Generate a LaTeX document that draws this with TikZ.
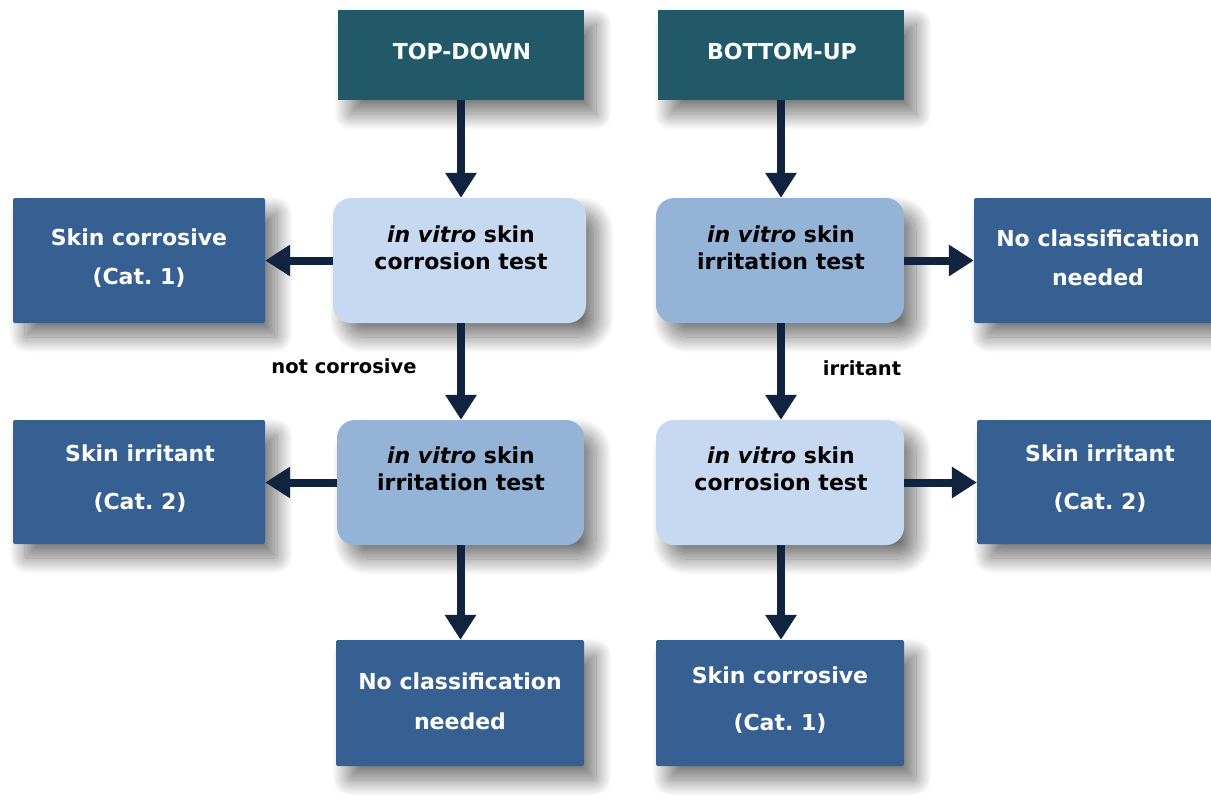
\documentclass[tikz,border=0pt]{standalone}
\usepackage{fontspec}
\setmainfont{DejaVu Sans}
\usetikzlibrary{shadows.blur,arrows.meta}
\definecolor{teal}{HTML}{215968}
\definecolor{dkblue}{HTML}{376092}
\definecolor{ltblue}{HTML}{C6D9F1}
\definecolor{mdblue}{HTML}{95B3D7}
\definecolor{navy}{HTML}{10243F}
\tikzset{
  shad/.style={blur shadow={shadow xshift=12pt, shadow yshift=-14pt, shadow blur radius=16pt, shadow blur steps=40, shadow opacity=55}},
  headbox/.style={shad, fill=teal, draw=none, minimum width=246pt, minimum height=90pt, inner sep=0pt},
  resbox/.style={shad, fill=dkblue, draw=none, rounded corners=2pt, inner sep=0pt},
  testbox/.style={shad, draw=none, rounded corners=18pt, minimum width=248pt, minimum height=125pt, inner sep=0pt},
  wtxt/.style={text=white, font=\bfseries\fontsize{22}{39}\selectfont, align=center, inner sep=0pt},
  btxt/.style={text=black, font=\bfseries\fontsize{22}{27}\selectfont, align=center, inner sep=0pt},
  lbl/.style={text=black, font=\bfseries\fontsize{19.5}{22}\selectfont, inner sep=0pt},
  arr/.style={draw=navy, line width=8pt, -{Triangle[width=30pt,length=25pt]}}
}
\begin{document}
\begin{tikzpicture}[x=1pt,y=-1pt]
\useasboundingbox (0,0) rectangle (1211,808);
% header boxes
\node[headbox] (td) at (461,55) {};
\node[headbox] (bu) at (781,55) {};
% test boxes
\node[testbox, fill=ltblue, minimum width=253pt] (lc) at (459.5,260.5) {};
\node[testbox, fill=mdblue] (ri) at (780,260.5) {};
\node[testbox, fill=mdblue, minimum width=247pt] (li) at (460.5,482.5) {};
\node[testbox, fill=ltblue] (rc) at (780,482.5) {};
% result boxes
\node[resbox, minimum width=252pt, minimum height=125pt] (sc1) at (139,260.5) {};
\node[resbox, minimum width=240pt, minimum height=125pt] (nc1) at (1094,260.5) {};
\node[resbox, minimum width=252pt, minimum height=124pt] (si1) at (139,482) {};
\node[resbox, minimum width=236pt, minimum height=124pt] (si2) at (1095,482) {};
\node[resbox, minimum width=248pt, minimum height=126pt] (nc2) at (460,703) {};
\node[resbox, minimum width=248pt, minimum height=126pt] (sc2) at (780,703) {};
% texts
\node[wtxt] (tdt) at (462,51) {TOP-DOWN};
\node[wtxt] (but) at (782,51) {BOTTOM-UP};
\node[btxt] (lct) at (461,248) {\textit{in vitro} skin\\corrosion test};
\node[btxt] (rit) at (781,248) {\textit{in vitro} skin\\irritation test};
\node[btxt] (lit) at (461,469) {\textit{in vitro} skin\\irritation test};
\node[btxt] (rct) at (781,469) {\textit{in vitro} skin\\corrosion test};
\node[wtxt] (sc1t) at (139,258) {Skin corrosive\\(Cat.~1)};
\node[wtxt] (nc1t) at (1098,258) {No classification\\needed};
\node[wtxt, font=\bfseries\fontsize{22}{48}\selectfont] (si1t) at (140,479) {Skin irritant\\(Cat.~2)};
\node[wtxt, font=\bfseries\fontsize{22}{48}\selectfont] (si2t) at (1100,479) {Skin irritant\\(Cat.~2)};
\node[wtxt, font=\bfseries\fontsize{22}{40}\selectfont] (nc2t) at (460,701) {No classification\\needed};
\node[wtxt, font=\bfseries\fontsize{22}{47}\selectfont] (sc2t) at (780,700) {Skin corrosive\\(Cat.~1)};
% labels
\node[lbl] (l1) at (344,366) {not corrosive};
\node[lbl] (l2) at (862,368) {irritant};
% arrows
\draw[arr] (td.south) -- (td.south |- lc.north);
\draw[arr] (bu.south) -- (bu.south |- ri.north);
\draw[arr] ([xshift=1.5pt]lc.south) -- ([xshift=1.5pt]lc.south |- li.north);
\draw[arr] ([xshift=1pt]ri.south) -- ([xshift=1pt]ri.south |- rc.north);
\draw[arr] (li.south) -- (li.south |- nc2.north);
\draw[arr] ([xshift=1pt]rc.south) -- ([xshift=1pt]rc.south |- sc2.north);
\draw[arr] (lc.west) -- (sc1.east |- lc.west);
\draw[arr] (li.west) -- (si1.east |- li.west);
\draw[arr] (ri.east) -- (nc1.west |- ri.east);
\draw[arr] (rc.east) -- (si2.west |- rc.east);
\end{tikzpicture}
\end{document}
